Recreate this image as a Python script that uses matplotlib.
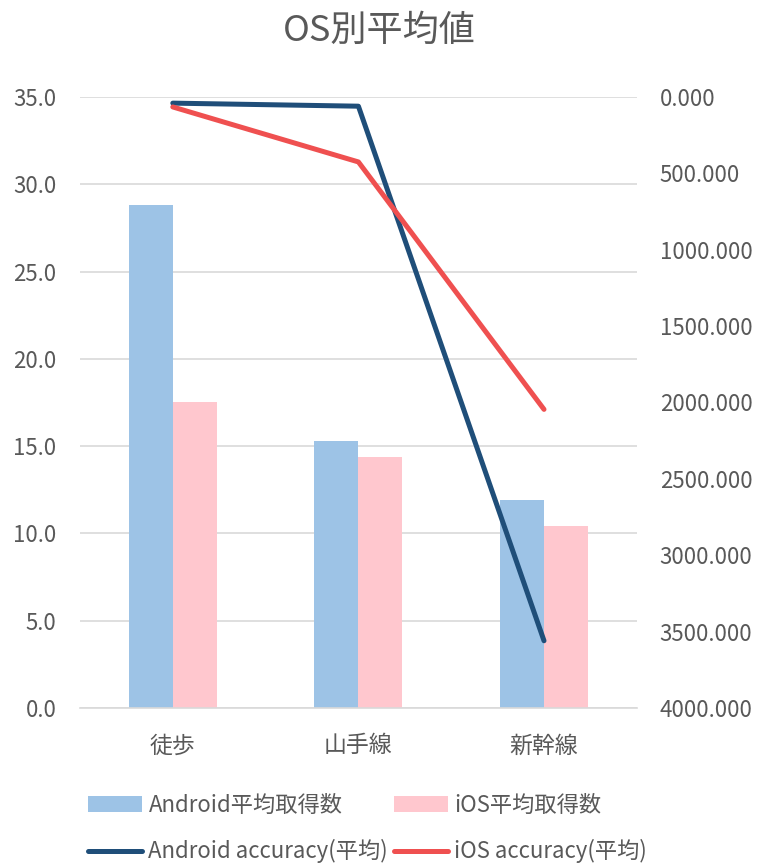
import matplotlib

matplotlib.use("Agg")
import matplotlib.pyplot as plt
import numpy as np
from matplotlib.ticker import FormatStrFormatter

plt.rcParams["font.family"] = ["Noto Sans CJK JP", "DejaVu Sans"]

categories = ["徒歩", "山手線", "新幹線"]
android_count = [28.8, 15.3, 11.9]
ios_count = [17.5, 14.4, 10.4]
android_acc = [40, 60, 3560]
ios_acc = [65, 425, 2045]

label_color = "#595959"
grid_color = "#d9d9d9"

fig = plt.figure(figsize=(7.59, 8.64), dpi=100)
ax = fig.add_axes([0.1054, 0.1806, 0.7336, 0.7071])
ax2 = ax.twinx()

x = np.arange(len(categories))
w = 0.237
b1 = ax.bar(x - w / 2, android_count, w, color="#9dc3e6", label="Android平均取得数", zorder=2)
b2 = ax.bar(x + w / 2, ios_count, w, color="#ffc7ce", label="iOS平均取得数", zorder=2)

l1, = ax2.plot(x, android_acc, color="#1f4e79", lw=3.6, label="Android accuracy(平均)",
               solid_capstyle="round")
l2, = ax2.plot(x, ios_acc, color="#ef5050", lw=3.6, label="iOS accuracy(平均)",
               solid_capstyle="round")

ax.set_xlim(-0.5, 2.5)
ax.set_ylim(0, 35)
ax.set_yticks(np.arange(0, 36, 5))
ax.yaxis.set_major_formatter(FormatStrFormatter("%.1f"))
ax.set_xticks(x)
ax.set_xticklabels(categories)
ax.grid(axis="y", color=grid_color, lw=1.2, zorder=0)
ax.set_axisbelow(True)

ax2.set_ylim(4000, 0)
ax2.set_yticks(np.arange(0, 4001, 500))
ax2.yaxis.set_major_formatter(FormatStrFormatter("%.3f"))

for a in (ax, ax2):
    for s in a.spines.values():
        s.set_visible(False)
ax.spines["bottom"].set_visible(True)
ax.spines["bottom"].set_color(grid_color)
ax.spines["bottom"].set_linewidth(1.2)

ax.tick_params(axis="y", length=0, pad=17, labelsize=16, labelcolor=label_color)
ax.tick_params(axis="x", length=0, pad=19, labelsize=16.5, labelcolor=label_color)
ax2.tick_params(axis="y", length=0, pad=16.5, labelsize=16, labelcolor=label_color)

fig.text(0.5, 1 - 31 / 864, "OS別平均値", ha="center", va="center",
         fontsize=26, color=label_color)

fig.legend(handles=[b1, l1, b2, l2], ncol=2, loc="upper left",
           bbox_to_anchor=(88 / 759, 1 - 794 / 864), frameon=False, fontsize=16,
           labelcolor=label_color, handlelength=2.45, handletextpad=0.27,
           columnspacing=0.25, labelspacing=1.0, borderpad=0, borderaxespad=0)

fig.savefig("out.png", dpi=100)
